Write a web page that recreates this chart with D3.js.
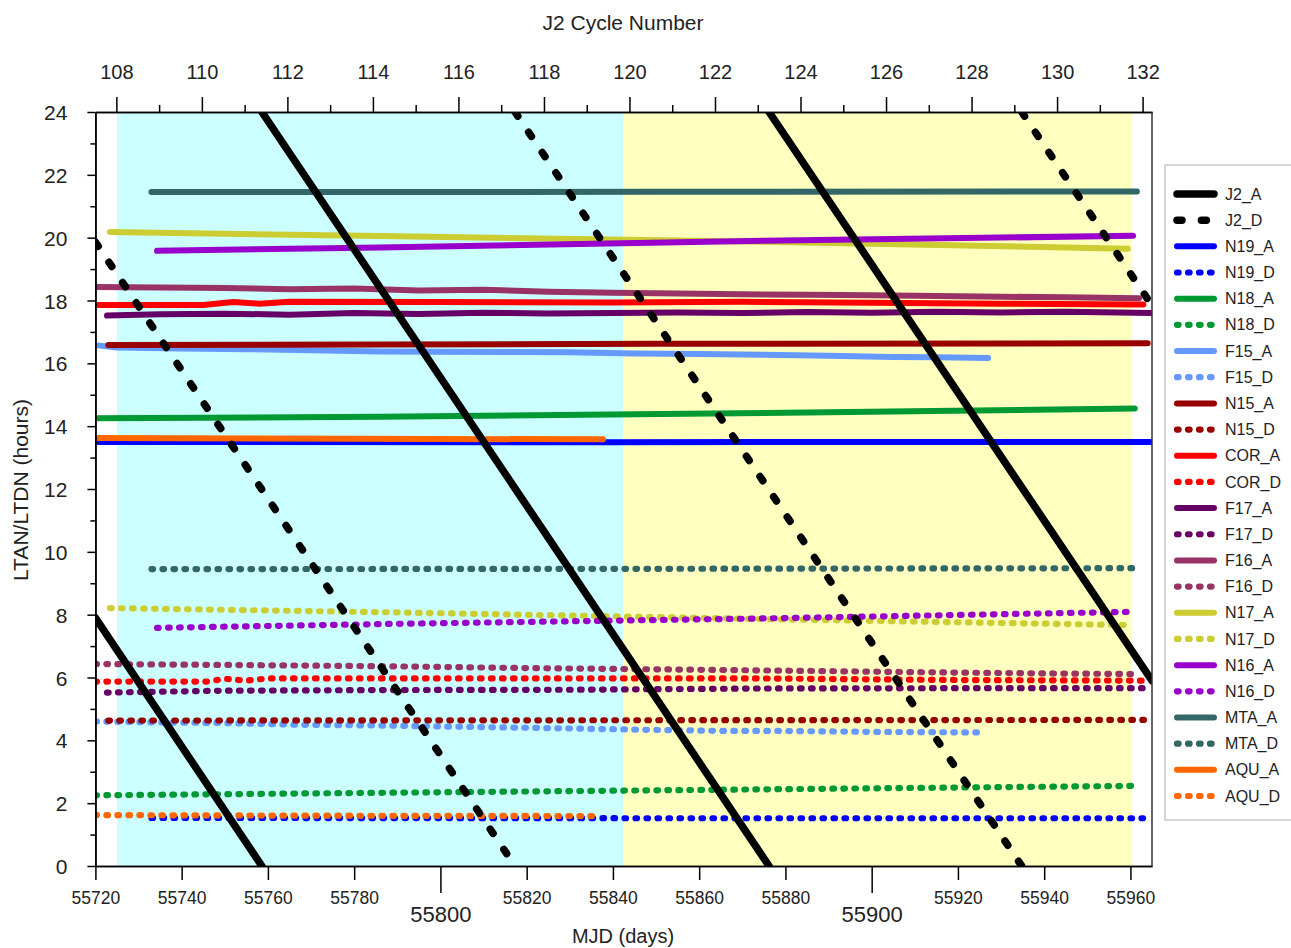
<!DOCTYPE html>
<html>
<head>
<meta charset="utf-8">
<script src="https://cdn.jsdelivr.net/npm/d3@7"></script>
<style>
  body { margin: 0; background: #fff; }
  svg { font-family: "Liberation Sans", Arial, sans-serif; }
</style>
</head>
<body>
<svg id="chart" width="1291" height="948"></svg>
<script>
// --- data (MJD day, hours) ---
const hourTicks = [0, 2, 4, 6, 8, 10, 12, 14, 16, 18, 20, 22, 24];
const hourMinor = [1, 3, 5, 7, 9, 11, 13, 15, 17, 19, 21, 23];
const dayTicks = [55720, 55740, 55760, 55780, 55820, 55840, 55860, 55880, 55920, 55940, 55960];
const dayMajor = [55800, 55900];
const cycleTicks = [108, 110, 112, 114, 116, 118, 120, 122, 124, 126, 128, 130, 132];
const cycleMinor = [109, 111, 113, 115, 117, 119, 121, 123, 125, 127, 129, 131];
const phaseBands = [[55725, 55842.4], [55842.4, 55960.3]];

const j2A = [[[55720, 7.9], [55758.6, 0]], [[55758.6, 24], [55876.2, 0]], [[55876.2, 24], [55965, 5.9]]];
const j2D = [[[55720, 19.86], [55817.3, 0]], [[55817.3, 24], [55934.8, 0]], [[55934.8, 24], [55965, 17.84]]];

const n19A = [[55720, 13.5], [55840, 13.49], [55965, 13.5]];
const n19D = [[55733, 1.53], [55850, 1.52], [55965, 1.52]];
const n18A = [[55720, 14.25], [55786, 14.3], [55875, 14.42], [55961, 14.56]];
const n18D = [[55720, 2.25], [55786, 2.33], [55875, 2.44], [55961, 2.55]];
const f15A = [[55720, 16.58], [55725, 16.5], [55740, 16.47], [55755, 16.45], [55770, 16.42], [55786, 16.38],
  [55800, 16.37], [55815, 16.36], [55830, 16.35], [55845, 16.31], [55860, 16.3], [55875, 16.27],
  [55890, 16.24], [55905, 16.2], [55915, 16.19], [55927, 16.17]];
const f15D = [[55720, 4.6], [55735, 4.57], [55750, 4.55], [55765, 4.5], [55786, 4.47], [55805, 4.43],
  [55820, 4.4], [55850, 4.33], [55865, 4.3], [55878, 4.3], [55900, 4.27], [55925.6, 4.25]];
const n15A = [[55723, 16.58], [55850, 16.62], [55964, 16.64]];
const n15D = [[55723, 4.63], [55850, 4.64], [55964, 4.65]];
const corA = [[55720, 17.86], [55745, 17.86], [55752, 17.95], [55758, 17.9], [55765, 17.96], [55800, 17.95],
  [55840, 17.94], [55870, 17.96], [55900, 17.93], [55930, 17.9], [55963, 17.87]];
const corD = [[55720, 5.87], [55746, 5.87], [55750, 5.96], [55755, 5.9], [55760, 5.97], [55800, 5.97],
  [55874, 5.97], [55920, 5.92], [55963, 5.9]];
const f17A = [[55722.7, 17.52], [55735, 17.56], [55750, 17.58], [55765, 17.55], [55780, 17.6], [55795, 17.57],
  [55810, 17.61], [55825, 17.59], [55840, 17.6], [55855, 17.62], [55870, 17.6], [55885, 17.63],
  [55900, 17.61], [55915, 17.64], [55930, 17.62], [55945, 17.64], [55965, 17.6]];
const f17D = [[55722.7, 5.52], [55750, 5.58], [55786, 5.6], [55830, 5.61], [55874, 5.65], [55920, 5.66], [55965, 5.66]];
const f16A = [[55720, 18.43], [55735, 18.41], [55750, 18.4], [55765, 18.36], [55780, 18.38], [55795, 18.32],
  [55810, 18.34], [55825, 18.28], [55840, 18.25], [55855, 18.22], [55870, 18.2], [55885, 18.18],
  [55900, 18.17], [55915, 18.14], [55930, 18.12], [55945, 18.1], [55962, 18.07]];
const f16D = [[55720, 6.43], [55750, 6.4], [55786, 6.36], [55820, 6.3], [55850, 6.26], [55878, 6.22],
  [55910, 6.17], [55940, 6.13], [55962, 6.11]];
const n17A = [[55723.4, 20.18], [55786, 20.05], [55875, 19.87], [55959.4, 19.65]];
const n17D = [[55723.4, 8.21], [55786, 8.08], [55875, 7.86], [55959.2, 7.67]];
const n16A = [[55734.3, 19.58], [55786, 19.69], [55875, 19.9], [55960.6, 20.06]];
const n16D = [[55734.3, 7.58], [55786, 7.7], [55875, 7.88], [55960.6, 8.09]];
const mtaA = [[55733, 21.45], [55850, 21.46], [55961.5, 21.47]];
const mtaD = [[55733, 9.45], [55850, 9.46], [55961.5, 9.48]];
const aquA = [[55720, 13.62], [55780, 13.6], [55837.7, 13.58]];
const aquD = [[55720, 1.62], [55780, 1.6], [55836.5, 1.59]];

// legend order, name -> data, colour, dotted?
const series = [
  { name: "J2_A", segs: j2A, color: "#000", kind: "j2solid" },
  { name: "J2_D", segs: j2D, color: "#000", kind: "j2dash" },
  { name: "N19_A", data: n19A, color: "#0000ff" },
  { name: "N19_D", data: n19D, color: "#0000ff", dot: true },
  { name: "N18_A", data: n18A, color: "#009933" },
  { name: "N18_D", data: n18D, color: "#009933", dot: true },
  { name: "F15_A", data: f15A, color: "#6699ff" },
  { name: "F15_D", data: f15D, color: "#6699ff", dot: true },
  { name: "N15_A", data: n15A, color: "#990000" },
  { name: "N15_D", data: n15D, color: "#990000", dot: true },
  { name: "COR_A", data: corA, color: "#ff0000" },
  { name: "COR_D", data: corD, color: "#ff0000", dot: true },
  { name: "F17_A", data: f17A, color: "#660066" },
  { name: "F17_D", data: f17D, color: "#660066", dot: true },
  { name: "F16_A", data: f16A, color: "#993366" },
  { name: "F16_D", data: f16D, color: "#993366", dot: true },
  { name: "N17_A", data: n17A, color: "#cccc33" },
  { name: "N17_D", data: n17D, color: "#cccc33", dot: true },
  { name: "N16_A", data: n16A, color: "#9900cc" },
  { name: "N16_D", data: n16D, color: "#9900cc", dot: true },
  { name: "MTA_A", data: mtaA, color: "#336666" },
  { name: "MTA_D", data: mtaD, color: "#336666", dot: true },
  { name: "AQU_A", data: aquA, color: "#ff6600" },
  { name: "AQU_D", data: aquD, color: "#ff6600", dot: true }
];

const svg = d3.select("#chart");
const plot = { left: 95.4, right: 1152, top: 112, bottom: 866 };

// --- scales ---
const x = d3.scaleLinear().domain([55720, 55965]).range([plot.left, plot.right]);
const xc = d3.scaleLinear().domain([107.51, 132.22]).range([plot.left, plot.right]);
const y = d3.scaleLinear().domain([0, 24]).range([plot.bottom, plot.top]);

svg.append("defs").append("clipPath").attr("id", "clip")
  .append("rect").attr("x", plot.left).attr("y", plot.top)
  .attr("width", plot.right - plot.left).attr("height", plot.bottom - plot.top);

// background bands
const bandCol = ["#ccffff", "#ffffc0"];
svg.append("g").selectAll("rect").data(phaseBands).enter().append("rect")
  .attr("x", d => x(d[0])).attr("width", d => x(d[1]) - x(d[0]))
  .attr("y", y(24)).attr("height", y(0) - y(24))
  .attr("fill", (d, i) => bandCol[i]);

const line = d3.line().x(d => x(d[0])).y(d => y(d[1]));
const lines = svg.append("g").attr("clip-path", "url(#clip)");

const styleLine = (sel, s) => {
  sel.attr("fill", "none").attr("stroke", s.color).attr("stroke-linecap", "round").attr("stroke-linejoin", "round");
  if (s.kind === "j2solid") sel.attr("stroke-width", 7.5);
  else if (s.kind === "j2dash") sel.attr("stroke-width", 7.5).attr("stroke-dasharray", "5 19.4");
  else if (s.dot) sel.attr("stroke-width", 6.2).attr("stroke-dasharray", "1.6 9.4");
  else sel.attr("stroke-width", 6);
};

series.filter(s => s.data).forEach(s => {
  lines.append("path").datum(s.data).attr("d", line).call(styleLine, s);
});
series.filter(s => s.segs).forEach(s => {
  s.segs.forEach(seg => lines.append("path").datum(seg).attr("d", line).call(styleLine, s));
});

// --- axes ---
const axisStyle = g => {
  g.selectAll("path.domain").attr("stroke", "#000").attr("stroke-width", 1.5);
  g.selectAll(".tick line").attr("stroke", "#000").attr("stroke-width", 1.5);
  g.selectAll("text").attr("fill", "#222").attr("font-family", "Liberation Sans, Arial, sans-serif");
};

svg.append("g").attr("transform", `translate(${plot.left},0)`)
  .call(d3.axisLeft(y).tickValues(hourMinor).tickSize(5).tickSizeOuter(0).tickFormat(""))
  .call(axisStyle);
svg.append("g").attr("transform", `translate(${plot.left},0)`)
  .call(d3.axisLeft(y).tickValues(hourTicks).tickSize(8).tickSizeOuter(0).tickPadding(20))
  .call(axisStyle)
  .call(g => g.selectAll("text").attr("font-size", 21).attr("dy", "0.36em"));

svg.append("g").attr("transform", `translate(0,${plot.bottom})`)
  .call(d3.axisBottom(x).tickValues(dayTicks).tickSize(14).tickSizeOuter(0).tickPadding(12).tickFormat(d3.format("d")))
  .call(axisStyle)
  .call(g => g.selectAll("text").attr("font-size", 17.5));
svg.append("g").attr("transform", `translate(0,${plot.bottom})`)
  .call(d3.axisBottom(x).tickValues(dayMajor).tickSize(27).tickSizeOuter(0).tickPadding(13).tickFormat(d3.format("d")))
  .call(axisStyle)
  .call(g => g.selectAll("text").attr("font-size", 22));

svg.append("g").attr("transform", `translate(0,${plot.top})`)
  .call(d3.axisTop(xc).tickValues(cycleMinor).tickSize(7).tickSizeOuter(0).tickFormat(""))
  .call(axisStyle);
svg.append("g").attr("transform", `translate(0,${plot.top})`)
  .call(d3.axisTop(xc).tickValues(cycleTicks).tickSize(15).tickSizeOuter(0).tickPadding(18))
  .call(axisStyle)
  .call(g => g.selectAll("text").attr("font-size", 20));

svg.append("line").attr("x1", plot.right).attr("x2", plot.right)
  .attr("y1", plot.top).attr("y2", plot.bottom).attr("stroke", "#333").attr("stroke-width", 1.5);

// --- titles ---
svg.append("text").attr("x", 623).attr("y", 30).attr("text-anchor", "middle")
  .attr("font-size", 21).attr("fill", "#222").text("J2 Cycle Number");
svg.append("text").attr("x", 623).attr("y", 943).attr("text-anchor", "middle")
  .attr("font-size", 20).attr("fill", "#222").text("MJD (days)");
svg.append("text").attr("transform", "translate(28,490) rotate(-90)").attr("text-anchor", "middle")
  .attr("font-size", 21).attr("fill", "#222").text("LTAN/LTDN (hours)");

// --- legend ---
const lg = svg.append("g");
lg.append("rect").attr("x", 1165).attr("y", 165).attr("width", 140).attr("height", 655)
  .attr("fill", "#fff").attr("stroke", "#c8c8c8").attr("stroke-width", 1.5);
const ly = d3.scalePoint().domain(series.map(s => s.name)).range([194, 796]);
series.forEach(s => {
  const yy = ly(s.name);
  lg.append("line").attr("x1", 1177).attr("x2", 1214)
    .attr("y1", yy).attr("y2", yy).call(styleLine, s);
  lg.append("text").attr("x", 1225).attr("y", yy).attr("dy", "0.35em")
    .attr("font-size", 16).attr("fill", "#222").text(s.name);
});
</script>
</body>
</html>
